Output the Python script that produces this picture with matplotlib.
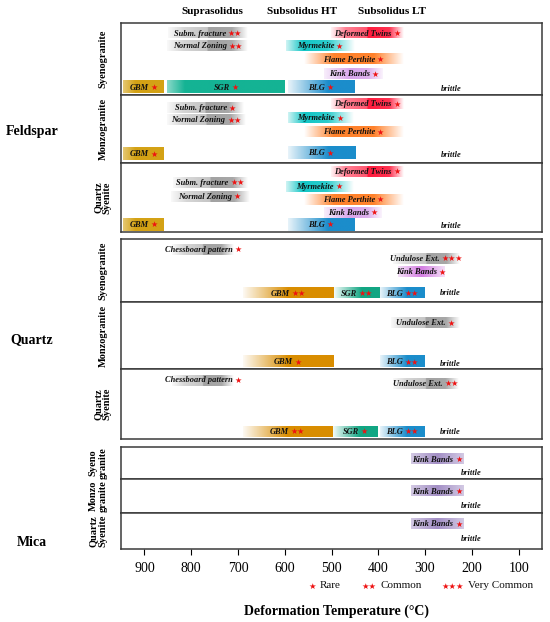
import numpy as np
import matplotlib
matplotlib.use("Agg")
import matplotlib.pyplot as plt
from matplotlib.colors import to_rgb
from matplotlib.offsetbox import TextArea, HPacker, AnnotationBbox

plt.rcParams['font.family'] = ['Liberation Serif', 'DejaVu Sans']

# ---- data -------------------------------------------------------------
temp_ticks = [900, 800, 700, 600, 500, 400, 300, 200, 100]
stage_names = ['Suprasolidus', 'Subsolidus HT', 'Subsolidus LT']
minerals = ['Feldspar', 'Quartz', 'Mica']
rock_names = ['Syenogranite', 'Monzogranite', 'Quartz\nSyenite']
mica_rock_names = ['Syeno\ngranite', 'Monzo\ngranite', 'Quartz\nSyenite']
abundance = ['Rare', 'Common', 'Very Common']
brittle_temp = [244, 246, 201]

# (feature, number of stars, hot end, cold end) in deg C
fsp_syeno = [('Subm. fracture', 2, 849, 679), ('Normal Zoning', 2, 851, 679),
             ('Deformed Twins', 1, 501, 345), ('Myrmekite', 1, 598, 452),
             ('Flame Perthite', 1, 559, 347), ('Kink Bands', 1, 516, 390),
             ('GBM', 1, 945, 859), ('SGR', 1, 851, 600), ('BLG', 1, 594, 452)]
fsp_monzo = [('Subm. fracture', 1, 851, 688), ('Normal Zoning', 2, 851, 684),
             ('Deformed Twins', 1, 501, 345), ('Myrmekite', 1, 594, 454),
             ('Flame Perthite', 1, 559, 347),
             ('GBM', 1, 945, 859), ('BLG', 1, 594, 450)]
fsp_qsyen = [('Deformed Twins', 1, 501, 345), ('Subm. fracture', 2, 838, 679),
             ('Myrmekite', 1, 598, 454), ('Normal Zoning', 1, 844, 677),
             ('Flame Perthite', 1, 559, 347), ('Kink Bands', 1, 516, 394),
             ('GBM', 1, 945, 859), ('BLG', 1, 594, 452)]
qtz_syeno = [('Chessboard pattern', 1, 840, 709), ('Undulose Ext.', 3, 368, 225),
             ('Kink Bands', 1, 358, 259),
             ('GBM', 2, 690, 497), ('SGR', 2, 495, 398), ('BLG', 2, 396, 300)]
qtz_monzo = [('Undulose Ext.', 1, 373, 227),
             ('GBM', 1, 690, 497), ('BLG', 2, 396, 300)]
qtz_qsyen = [('Chessboard pattern', 1, 840, 709), ('Undulose Ext.', 2, 368, 227),
             ('GBM', 2, 690, 499), ('SGR', 1, 497, 401), ('BLG', 2, 396, 300)]
mica_all = [('Kink Bands', 1, 330, 217)]

# ---- layout (pixels of a 550 x 622 canvas) ----------------------------
W, H = 550, 622
X0, X1 = 121, 542
panel_px = [[(23, 95), (95, 163), (163, 232)],
            [(239, 302), (302, 369), (369, 439)],
            [(447, 479), (479, 513), (513, 549)]]
# row centre (px from panel top) for each item above, same order
rows = [[[10, 23, 10, 23, 36, 51, 64, 64, 64],
         [13, 25, 9, 23, 37, 59, 58],
         [8, 19, 23, 33, 36, 49, 61, 61]],
        [[10, 19, 33, 54, 54, 54],
         [21, 60, 60],
         [11, 14, 62, 62, 62]],
        [[12], [12], [11]]]
brittle_row = [[66, 60, 63], [54, 62, 63], [26, 27, 26]]

panels = [[fsp_syeno, fsp_monzo, fsp_qsyen],
          [qtz_syeno, qtz_monzo, qtz_qsyen],
          [mica_all, mica_all, mica_all]]

gray = ('#8a8a8a', [(0, 0.05), (0.2, 0.35), (0.5, 0.5), (0.5, 0.8), (0.8, 0.75), (1, 0.0)])
styles = {
    'Subm. fracture': gray, 'Normal Zoning': gray,
    'Chessboard pattern': gray, 'Undulose Ext.': gray,
    'Deformed Twins': ('#ff1a3c', [(0, 0.05), (0.2, 0.55), (0.5, 0.75), (0.5, 1), (0.8, 0.9), (1, 0.0)]),
    'Myrmekite': ('#12c6c6', [(0, 0.2), (0.25, 1), (0.6, 0.9), (1, 0.0)]),
    'Flame Perthite': ('#ff7414', [(0, 0.0), (0.3, 0.9), (0.7, 0.9), (1, 0.0)]),
    'Kink Bands': ('#cf8ee6', [(0, 0.15), (0.45, 0.8), (0.75, 0.7), (1, 0.1)]),
    'GBM': ('#d4a215', [(0, 0.6), (0.3, 1), (1, 1)]),
    'SGR': ('#14b394', [(0, 0.5), (0.15, 1), (1, 1)]),
    'BLG': ('#1b8dcb', [(0, 0.1), (0.6, 1), (1, 1)]),
}
qtz_styles = {
    'GBM': ('#d98d00', [(0, 0.05), (0.5, 1), (1, 1)]),
    'SGR': ('#12a683', [(0, 0.05), (0.6, 1), (1, 1)]),
    'BLG': ('#1b8dcb', [(0, 0.1), (0.6, 1), (1, 1)]),
    'Kink Bands': ('#cc66dd', [(0, 0.2), (0.5, 0.85), (1, 0.2)]),
}
mica_style = ('#9d88c2', [(0, 0.45), (0.5, 0.95), (1, 0.45)])
big_bars = ['GBM', 'SGR', 'BLG']


def grad_bar(ax, t0, t1, yc, h, color, stops):
    xs = np.linspace(0, 1, 300)
    rgba = np.zeros((1, 300, 4))
    rgba[..., :3] = to_rgb(color)
    rgba[..., 3] = np.interp(xs, [s[0] for s in stops], [s[1] for s in stops])
    ax.imshow(rgba, extent=(t0, t1, yc + h / 2, yc - h / 2), aspect='auto',
              interpolation='bilinear', zorder=1)


def star_label(ax, x, y, name, n, xycoords='data', fs=6, sfs=5.8, align=(0.5, 0.5),
               style='italic', weight='bold', sep=1.2):
    kids = []
    if n and align[0] == 0:
        kids.append(TextArea('★' * n, textprops=dict(fontsize=sfs, color='#ee1111',
                                                     fontfamily=['DejaVu Sans'])))
    kids.append(TextArea(name, textprops=dict(fontsize=fs, fontweight=weight,
                                              fontstyle=style, color='#111111')))
    if n and align[0] != 0:
        kids.append(TextArea('★' * n, textprops=dict(fontsize=sfs, color='#ee1111',
                                                     fontfamily=['DejaVu Sans'])))
    box = HPacker(children=kids, align='baseline', pad=0, sep=sep)
    ab = AnnotationBbox(box, (x, y), xycoords=xycoords, frameon=False, pad=0,
                        box_alignment=align, zorder=4, annotation_clip=False)
    ax.add_artist(ab)


fig = plt.figure(figsize=(5.5, 6.22), dpi=100)

for mi in range(3):
    for ri in range(3):
        top, bot = panel_px[mi][ri]
        h = bot - top
        ax = fig.add_axes([X0 / W, 1 - bot / H, (X1 - X0) / W, h / H])
        for name, n, t0, t1 in panels[mi][ri]:
            yc = rows[mi][ri][panels[mi][ri].index((name, n, t0, t1))]
            if mi == 2:
                col, st = mica_style
            elif mi == 1 and name in qtz_styles:
                col, st = qtz_styles[name]
            else:
                col, st = styles[name]
            bh = 11
            if name in big_bars:
                bh = 13 if mi == 0 else 11
            grad_bar(ax, t0, t1, yc, bh, col, st)
            star_label(ax, (t0 + t1) / 2, yc, name, n)
        ax.text(brittle_temp[mi], brittle_row[mi][ri], 'brittle', fontsize=6,
                fontstyle='italic', fontweight='bold', ha='center', va='center',
                color='#111111')
        ax.set_xlim(950, 50)
        ax.set_ylim(h, 0)
        ax.set_yticks([])
        for sp in ax.spines.values():
            sp.set_linewidth(1.1)
            sp.set_color('#3a3a3a')
        if mi == 2 and ri == 2:
            ax.set_xticks(temp_ticks)
            ax.tick_params(axis='x', length=4, width=0.8, labelsize=10, pad=5)
        else:
            ax.set_xticks([])
        labels = mica_rock_names if mi == 2 else rock_names
        fig.text((98 if mi == 2 else 103) / W, 1 - (top + bot) / 2 / H, labels[ri],
                 rotation=90, ha='center', va='center', fontsize=7.5,
                 fontweight='bold', multialignment='center',
                 linespacing=1.1 if mi == 2 else 0.95)

# mineral labels on the left
for name, ypx in zip(minerals, [132, 340, 543]):
    fig.text(32 / W, 1 - ypx / H, name, ha='center', va='center',
             fontsize=10, fontweight='bold')

# stage titles on top
for name, xpx in zip(stage_names, [212, 302, 392]):
    fig.text(xpx / W, 1 - 11 / H, name, ha='center', va='center',
             fontsize=8, fontweight='bold')

# star legend
for k, (name, xpx) in enumerate(zip(abundance, [308, 361, 441])):
    star_label(ax, xpx / W, 1 - 586 / H, name, k + 1, xycoords='figure fraction',
               fs=8, sfs=6, align=(0, 0.5), style='normal', weight='normal', sep=3)

fig.text(336 / W, 1 - 611 / H, 'Deformation Temperature (°C)', ha='center',
         va='center', fontsize=10, fontweight='bold')

fig.savefig('out.png', dpi=100)
